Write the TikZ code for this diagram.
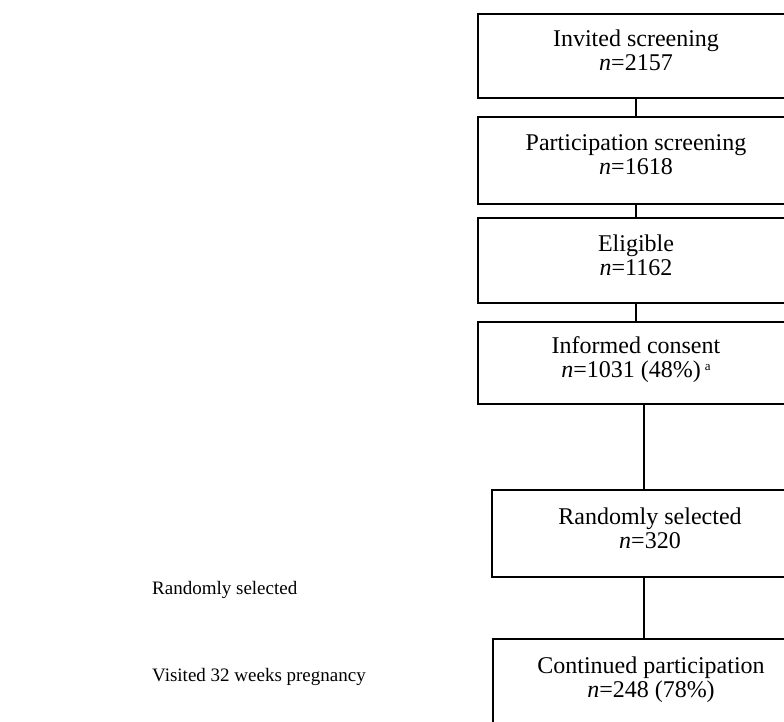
\documentclass[tikz,border=0pt]{standalone}
\usepackage{fontspec}
\setmainfont{Liberation Serif}
\usetikzlibrary{positioning}
\tikzset{
  stage-box/.style={draw, line width=1.2pt, minimum width=316pt, minimum height=#1,
    align=center, font=\fontsize{24}{24}\selectfont, text depth=11pt},
  stage-box/.default=85pt,
  stage-path/.style={line width=1.2pt},
  side-label/.style={anchor=west, font=\fontsize{19}{22}\selectfont, inner sep=0pt},
}
\newcommand{\notemark}[1]{\,\raisebox{0.65ex}{\fontsize{13}{13}\selectfont #1}}
\begin{document}
\begin{tikzpicture}[x=1pt, y=-1pt]
\useasboundingbox (0,0) rectangle (784,721);
\clip (0,0) rectangle (784,721);
% stages
\node[stage-box=84pt] (invited) at (636,56) {Invited screening\\\textit{n}=2157};
\node[stage-box=87pt] (particip) at (636,160.5) {Participation screening\\\textit{n}=1618};
\node[stage-box] (eligible) at (636,260.5) {Eligible\\\textit{n}=1162};
\node[stage-box=82pt] (consent) at (636,363) {Informed consent\\\textit{n}=1031 (48\%)\notemark{a}};
\node[stage-box=87pt] (random) at (650,533.5) {Randomly selected\\\textit{n}=320};
\node[stage-box=87pt] (continued) at (651,682.5) {Continued participation\\\textit{n}=248 (78\%)};
\coordinate (trunk) at (644,0);
% connectors
\draw[stage-path] (invited.south) -- (particip.north);
\draw[stage-path] (particip.south) -- (eligible.north);
\draw[stage-path] (eligible.south) -- (consent.north);
\draw[stage-path] (consent.south -| trunk) -- (random.north -| trunk);
\draw[stage-path] (random.south -| trunk) -- (continued.north -| trunk);
% side labels
\node[side-label] (lrandom) at (152,590) {Randomly selected};
\node[side-label] (lvisited) at (152,677) {Visited 32 weeks pregnancy};
\end{tikzpicture}
\end{document}
